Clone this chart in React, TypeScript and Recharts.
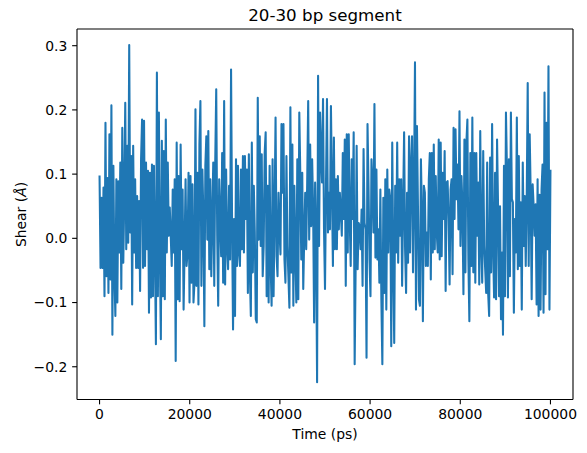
import { LineChart, Line, XAxis, YAxis, ReferenceLine } from 'recharts';

// Shear values, left to right (approx. one per screen pixel)
const shearA = [
  0.098, -0.046, 0.063, -0.046, 0.079, -0.09, 0.18, -0.059, 0.094, -0.085, 0.162, -0.064, 0.207, -0.15,
  0.113, -0.053, -0.121, 0.092, -0.1, 0.089, -0.022, 0.118, -0.079, 0.172, -0.038, 0.061, 0.211, -0.017,
  0.144, -0.007, 0.301, 0.009, 0.128, -0.103, 0.144, -0.022, 0.092, -0.046, 0.066, -0.046, 0.058, -0.082,
  0.123, 0.185, -0.046, 0.183, -0.043, 0.118, -0.017, 0.105, -0.116, 0.102, -0.092, 0.115, -0.09, 0.113,
  -0.022,
];
const shearB = [
  -0.165, 0.258, -0.09, 0.196, -0.022, -0.157, 0.152, -0.09, 0.136, -0.095, 0.185, -0.022, 0.118, 0.004,
  0.048, 0.004, -0.043, 0.076, -0.022, 0.092, -0.191, 0.149, -0.095, 0.097, -0.098, 0.146, -0.017, 0.076,
  -0.111, -0.017, 0.092, -0.043, -0.022, 0.102, -0.1, 0.097, -0.069, 0.084, -0.1, -0.069, 0.201, -0.074,
  0.102, -0.103, 0.146, 0.214, -0.074, 0.107, 0.035, -0.137, 0.113, 0.159, -0.002, 0.167, -0.048, 0.092,
  -0.059, 0.03, 0.118, -0.074, 0.118, 0.232, 0.004, -0.105, 0.092, 0.035, -0.028, 0.133, -0.069, 0.214,
  -0.072, 0.107, -0.012, -0.048, 0.082, -0.033, 0.263, 0.03, -0.142, 0.03, -0.121, 0.123, -0.043, 0.113,
  -0.022,
];
const shearC = [
  -0.043, 0.107, -0.017, 0.128, -0.022, 0.128, 0.03, 0.107, -0.085, 0.131, -0.053, -0.121, 0.149, -0.053,
  0.082, 0.009, -0.126, -0.131, 0.219, -0.002, 0.159, -0.012, 0.131, -0.059, -0.012, 0.133, 0.165, -0.09,
  0.082, -0.1, 0.113, -0.038, -0.105, 0.123, -0.09, 0.035, 0.188, -0.028, -0.059, 0.071, 0.009, -0.025,
  0.178, 0.071, 0.178, -0.033, -0.069, 0.128, -0.012, -0.059, -0.108, 0.204, -0.053, 0.146, -0.105, 0.082,
  -0.022, -0.1, 0.123, -0.095, 0.196, 0.102, -0.033, 0.102, -0.079, 0.004, 0.071, -0.017, 0.087, 0.214,
  -0.002, 0.146, 0.019, 0.123, 0.045, -0.131, 0.087, -0.002, -0.224, 0.253, -0.012, 0.196, 0.133, 0.087,
  0.217, 0.014,
];
const shearD = [
  -0.079, 0.082, 0.217, 0.009, 0.071, 0.014, 0.206, 0.082, -0.043, 0.157, -0.017, 0.092, -0.017, 0.097,
  0.014, 0.071, 0.04, 0.004, 0.133, 0.03, 0.154, -0.074, 0.162, -0.022, 0.162, 0.03, -0.043, 0.123, 0.03,
  0.165, -0.196, -0.043, 0.144, -0.048, 0.024, 0.019, -0.017, 0.045, -0.074, 0.139, 0.024, 0.014, -0.186,
  0.178, 0.082, -0.033, -0.09, 0.123, 0.082, 0.009, 0.209, -0.03, 0.107, -0.033, 0.014, -0.069, 0.076,
  -0.095, -0.196, 0.063, -0.085, 0.092, -0.111, 0.107, -0.022, 0.076, 0.061, -0.168, 0.149, -0.033, -0.163,
  0.082, -0.022, 0.149, -0.038, 0.092, 0.004, 0.092, -0.074, 0.05, 0.165, -0.017, -0.085, 0.071, -0.038,
  0.159,
];
const shearE = [
  -0.022, 0.113, 0.159, -0.053, 0.071, 0.274, -0.111, 0.175, 0.05, -0.095, -0.105, 0.123, 0.04, -0.129,
  0.082, 0.071, -0.043, 0.009, -0.043, 0.092, 0.133, -0.064, 0.133, -0.022, 0.146, -0.017, 0.097, 0.009,
  -0.022, 0.154, -0.033, 0.149, -0.028, 0.102, 0.03, 0.136, -0.082, 0.087, 0.089, 0.03, -0.072, 0.076,
  0.092, -0.056, 0.172, 0.03, 0.17, 0.061, 0.115, 0.014, 0.198, -0.012, 0.097, 0.05, -0.087, 0.154, -0.053,
  0.149, 0.185, -0.033, -0.129, 0.133, -0.043, 0.188, -0.053, 0.133, -0.069, 0.133, 0.004, 0.087, -0.072,
  0.167, -0.012, -0.069, 0.136, -0.012, -0.048, -0.085, 0.118, -0.085, -0.121, 0.126, -0.053, 0.178,
  -0.012, -0.092,
];
const shearF = [
  0.102, -0.095, 0.154, 0.05, -0.09, 0.05, -0.126, -0.022, -0.15, 0.113, -0.09, 0.196, 0.107, -0.092,
  0.123, -0.059, 0.196, 0.061, 0.056, -0.116, 0.03, -0.022, 0.188, -0.048, 0.128, -0.043, 0.056, -0.111,
  0.118, -0.012, 0.066, -0.043, 0.058, 0.242, -0.043, 0.162, 0.071, -0.095, 0.084, 0.05, 0.004, 0.053,
  -0.103, 0.092, -0.121, 0.068, -0.111, 0.076, 0.115, -0.116, 0.227, -0.087, 0.18, -0.017, 0.268, -0.111,
  0.107,
];

const shear = [...shearA, ...shearB, ...shearC, ...shearD, ...shearE, ...shearF];
const T_END = 100000; // ps, trace is evenly sampled from 0 to here
const xTicks = [0, 20000, 40000, 60000, 80000, 100000];
const yTicks = [-0.2, -0.1, 0.0, 0.1, 0.2, 0.3];
const xDomain = [-5000, 105000];
const yDomain = [-0.251, 0.326];

const data = shear.map((v, i) => ({ t: (i * T_END) / (shear.length - 1), shear: v }));

const FONT = '"DejaVu Sans", sans-serif';
const tickStyle = { fill: '#000', fontSize: 13.9 };
const spine = { stroke: '#000', strokeWidth: 1.1 };
const fmtY = (v: number) => (v < 0 ? '\u2212' : '') + Math.abs(v).toFixed(1);

export default function App() {
  return (
    <div style={{ position: 'absolute', left: 0, top: 0, width: 587, height: 453, background: '#fff', fontFamily: FONT }}>
      <LineChart
        width={587}
        height={453}
        data={data}
        margin={{ top: 29, right: 14, left: 17, bottom: 23.5 }}
      >
        <XAxis
          dataKey="t"
          type="number"
          domain={xDomain}
          ticks={xTicks}
          interval={0}
          allowDataOverflow
          height={30}
          tickSize={4.86}
          tickMargin={4.86}
          tick={tickStyle}
          stroke="#000"
          axisLine={spine}
          tickLine={spine}
          label={{ value: 'Time (ps)', position: 'bottom', offset: 0, fill: '#000', fontSize: 13.9 }}
        />
        <YAxis
          type="number"
          domain={yDomain}
          ticks={yTicks}
          interval={0}
          allowDataOverflow
          width={60}
          tickSize={4.86}
          tickMargin={4.86}
          tickFormatter={fmtY}
          tick={tickStyle}
          stroke="#000"
          axisLine={spine}
          tickLine={spine}
        />
        {/* top and right spines */}
        <ReferenceLine y={yDomain[1]} {...spine} />
        <ReferenceLine x={xDomain[1]} {...spine} />
        <Line
          type="linear"
          dataKey="shear"
          stroke="#1f77b4"
          strokeWidth={2.08}
          strokeLinejoin="round"
          dot={false}
          activeDot={false}
          isAnimationActive={false}
        />
      </LineChart>
      <svg width={587} height={453} style={{ position: 'absolute', left: 0, top: 0, pointerEvents: 'none' }}>
        <text x={325} y={21} textAnchor="middle" fontSize={16.7} fill="#000" fontFamily={FONT}>
          20-30 bp segment
        </text>
        <text transform="translate(26, 214.5) rotate(-90)" textAnchor="middle" fontSize={13.9} fill="#000" fontFamily={FONT}>
          Shear (<tspan fontStyle="italic">Å</tspan>)
        </text>
      </svg>
    </div>
  );
}
